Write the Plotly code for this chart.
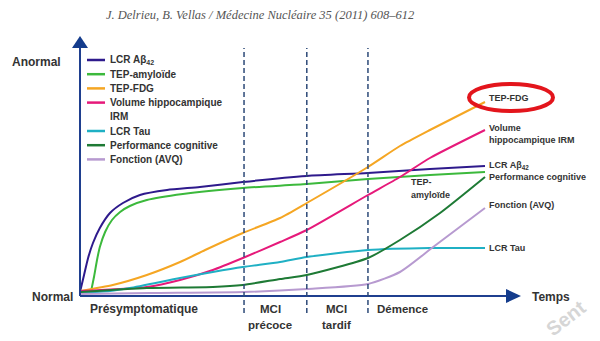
import plotly.graph_objects as go

# ---------------- data (time 0-100, biomarker abnormality 0-100) ----------------
series_names = ["LCR Aβ<sub>42</sub>", "TEP-amyloïde", "TEP-FDG",
                "Volume hippocampique<br>IRM", "LCR Tau",
                "Performance cognitive", "Fonction (AVQ)"]
series_colors = ["#2e1a8c", "#3cb93c", "#f5a623", "#e6197a",
                 "#1fb0c4", "#1e7a35", "#b79ad0"]

abeta_x = [0, 1.0, 2.0, 3.2, 4.9, 7.4, 10.6, 14.8, 21.5, 29.6, 40.2, 56.0, 71.1, 86.4, 100]
abeta_y = [2, 10.5, 19, 26.5, 34, 41.5, 46.5, 50.5, 53, 54.5, 57, 60, 61.5, 63.5, 65]

amy_x = [2.7, 3.5, 4.2, 4.9, 6.2, 7.9, 9.9, 12.3, 16.5, 25.4, 40.2, 56.0, 71.1, 86.4, 100]
amy_y = [2, 10, 18, 24.5, 32, 38, 42, 45, 48, 51, 54, 56, 58.5, 60.5, 62]

fdg_x = [0, 8.1, 16.5, 24.7, 30.9, 40.2, 49.4, 56.0, 71.1, 79.0, 86.4, 100]
fdg_y = [2.5, 5.5, 10.5, 17, 23, 31.5, 39, 46.5, 64.5, 75, 83, 97]

hippo_x = [0, 16.5, 24.7, 32.8, 40.2, 49.4, 56.0, 71.1, 79.0, 86.4, 100]
hippo_y = [2.5, 4.5, 8, 13, 19, 27, 33, 50.5, 59.5, 69, 83]

tau_x = [0, 7.4, 12.3, 24.7, 32.8, 40.2, 49.4, 56.0, 71.1, 86.4, 100]
tau_y = [1.5, 2.5, 4, 9, 12, 14.5, 17, 19.5, 23, 24, 24]

cog_x = [0, 16.5, 32.8, 40.2, 49.4, 56.0, 71.1, 79.0, 88.9, 100]
cog_y = [2, 4, 4.5, 5.5, 8.5, 10.5, 19, 28, 41.5, 59.5]

avq_x = [0, 17.3, 40.5, 56, 71.1, 79, 87.2, 100]
avq_y = [1, 1.5, 2, 3.5, 6, 12, 24.5, 44]

series_x = [abeta_x, amy_x, fdg_x, hippo_x, tau_x, cog_x, avq_x]
series_y = [abeta_y, amy_y, fdg_y, hippo_y, tau_y, cog_y, avq_y]

phase_bounds = [40.5, 56.0, 71.1]
phase_labels = ["Présymptomatique", "MCI<br>précoce", "MCI<br>tardif", "Démence"]

end_labels = ["TEP-FDG", "Volume<br>hippocampique IRM", "LCR Aβ<sub>42</sub>",
              "Performance cognitive", "Fonction (AVQ)", "LCR Tau"]
end_label_y = [99, 81, 65.5, 59.5, 45.5, 24]

# ---------------- figure ----------------
PX = 4.05  # pixels per time unit
PY = 2.0   # pixels per y unit
X0, Y0 = 80, 296


def tx(px):
    return (px - X0) / PX


def ty(py):
    return (Y0 - py) / PY


fig = go.Figure()
for name, col, xs, ys in zip(series_names, series_colors, series_x, series_y):
    fig.add_trace(go.Scatter(x=xs, y=ys, mode="lines", name=name,
                             line=dict(color=col, width=2, shape="spline", smoothing=0.6),
                             showlegend=False, hoverinfo="skip"))

shapes = []
annotations = []
axis_col = "#1f3f8f"


def add_text(x, y, text, font, xanchor="left", line_px=12.0, yanchor="middle"):
    """Add (possibly multi-line) text, one annotation per line."""
    for k, ln in enumerate(text.split("<br>")):
        annotations.append(dict(x=x, y=y - k * line_px / PY, text=ln, xanchor=xanchor,
                                yanchor=yanchor, showarrow=False, font=font))


# axes with arrows
shapes.append(dict(type="line", x0=0, x1=0, y0=0, y1=ty(46), line=dict(color=axis_col, width=2)))
shapes.append(dict(type="line", x0=0, x1=tx(508), y0=0, y1=0, line=dict(color=axis_col, width=2)))
shapes.append(dict(type="path",
                   path=f"M {tx(72)},{ty(48)} L {tx(88)},{ty(48)} L {tx(80)},{ty(36)} Z",
                   fillcolor="#143c8c", line=dict(width=0)))
shapes.append(dict(type="path",
                   path=f"M {tx(506)},{ty(289)} L {tx(506)},{ty(303)} L {tx(521)},{ty(296)} Z",
                   fillcolor="#143c8c", line=dict(width=0)))

# phase dashed lines
for b in phase_bounds:
    shapes.append(dict(type="line", x0=b, x1=b, y0=ty(313), y1=ty(48),
                       line=dict(color="#2d4a78", width=1.5, dash="5px,3px")))

# red ellipse around TEP-FDG
shapes.append(dict(type="circle", x0=tx(469), x1=tx(553), y0=ty(111), y1=ty(84),
                   line=dict(color="#e3151c", width=4)))

# manual legend
leg_font = dict(family="Liberation Sans", size=10, color="#333333", weight="bold")
row = 0
for name, col in zip(series_names, series_colors):
    yrow = ty(60 + 14.2 * row)
    shapes.append(dict(type="line", x0=tx(87), x1=tx(105), y0=yrow, y1=yrow,
                       line=dict(color=col, width=2.5)))
    add_text(tx(108), yrow, name, leg_font, line_px=14.2)
    row += len(name.split("<br>"))

# end labels
lab_font = dict(family="Liberation Sans", size=9, color="#333333", weight="bold")
for lab, yv in zip(end_labels, end_label_y):
    nl = len(lab.split("<br>"))
    add_text(tx(487), yv + (nl - 1) * 6 / PY, lab, lab_font, line_px=12)
add_text(tx(409), ty(182), "TEP-<br>amyloïde", lab_font, line_px=13)

# phase labels
phase_font = dict(family="Liberation Sans", size=11.5, color="#333333", weight="bold")
add_text(tx(88), ty(309), phase_labels[0],
         dict(family="Liberation Sans", size=12, color="#333333", weight="bold"))
add_text(tx(270), ty(309), phase_labels[1], phase_font, xanchor="center", line_px=16)
add_text(tx(336), ty(309), phase_labels[2], phase_font, xanchor="center", line_px=16)
add_text(tx(375), ty(309), phase_labels[3], phase_font)

# axis labels
bold12 = dict(family="Liberation Sans", size=12, color="#333333", weight="bold")
add_text(tx(10), ty(62), "Anormal", bold12)
add_text(tx(30), ty(297), "Normal", bold12)
add_text(tx(530), ty(297), "Temps", bold12)

# header
add_text(tx(104), ty(15), "J. Delrieu, B. Vellas / Médecine Nucléaire 35 (2011) 608–612",
         dict(family="Liberation Serif", size=12.5, color="#555555", style="italic"))

# faint watermark fragment
annotations.append(dict(x=tx(566), y=ty(318), text="Sent", textangle=-38, showarrow=False,
                        xanchor="center", yanchor="middle",
                        font=dict(family="Liberation Sans", size=20, color="#d6d6d6",
                                  weight="bold")))

fig.update_layout(
    width=600, height=341, margin=dict(l=0, r=0, t=0, b=0),
    paper_bgcolor="white", plot_bgcolor="white",
    xaxis=dict(range=[tx(0), tx(600)], visible=False, fixedrange=True),
    yaxis=dict(range=[ty(341), ty(0)], visible=False, fixedrange=True),
    shapes=shapes, annotations=annotations, showlegend=False,
)

fig.write_html("out.html")
